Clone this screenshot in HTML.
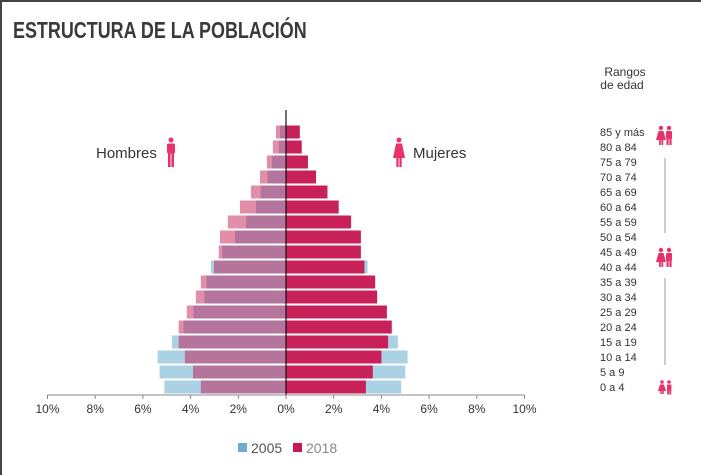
<!DOCTYPE html>
<html><head><meta charset="utf-8">
<style>
html,body{margin:0;padding:0;background:#fff;}
body{width:701px;height:475px;overflow:hidden;position:relative;font-family:"Liberation Sans",sans-serif;}
#frame{position:absolute;left:0;top:0;width:701px;height:475px;box-sizing:border-box;border-left:2px solid #444;border-top:2px solid #444;}
#title{position:absolute;left:13px;top:17px;font-size:23px;font-weight:bold;color:#3a3a3a;transform:scaleX(0.78);transform-origin:left top;white-space:nowrap;letter-spacing:0px;}
svg{position:absolute;left:0;top:0;}
</style></head><body>
<div id="frame"></div>
<div id="title">ESTRUCTURA DE LA POBLACIÓN</div>
<svg id="chart" width="701" height="475"></svg>
<script>
const ages = ["85 y más","80 a 84","75 a 79","70 a 74","65 a 69","60 a 64","55 a 59","50 a 54","45 a 49","40 a 44","35 a 39","30 a 34","25 a 29","20 a 24","15 a 19","10 a 14","5 a 9","0 a 4"];
const men2005 = [0.25,0.3,0.59,0.78,1.06,1.26,1.67,2.14,2.68,3.15,3.33,3.42,3.88,4.3,4.78,5.38,5.3,5.1];
const men2018 = [0.42,0.55,0.8,1.09,1.47,1.93,2.44,2.77,2.82,3.02,3.57,3.78,4.16,4.5,4.5,4.24,3.9,3.57];
const women2005 = [0.4,0.5,0.75,1.0,1.4,1.7,2.2,2.8,3.0,3.42,3.6,3.7,4.1,4.46,4.69,5.1,5.0,4.83];
const women2018 = [0.58,0.66,0.92,1.26,1.74,2.21,2.73,3.14,3.14,3.29,3.74,3.82,4.23,4.43,4.28,4.0,3.64,3.35];
const ticks = [-10,-8,-6,-4,-2,0,2,4,6,8,10];

const svg=document.getElementById('chart');
const NS='http://www.w3.org/2000/svg';
const cx=286, unit=23.85;
const xs=v=>cx+v*unit;
const ys=i=>132+i*15;
function mk(tag,attrs){const e=document.createElementNS(NS,tag);for(const k in attrs)e.setAttribute(k,attrs[k]);svg.appendChild(e);return e;}

ages.forEach((a,i)=>{
  const y=ys(i)-6.5,h=13;
  const m05=men2005[i],m18=men2018[i],mn=Math.min(m05,m18);
  let r=mk('rect',{x:xs(-m05),y:y,width:m05*unit,height:h,fill:'#abd1e4'});
  
  
  r=mk('rect',{x:xs(-m18),y:y,width:m18*unit,height:h,fill:'#e28ea9'});
  
  
  r=mk('rect',{x:xs(-mn),y:y,width:mn*unit,height:h,fill:'#b5749b'});
  
  
  r=mk('rect',{x:cx,y:y,width:women2005[i]*unit,height:h,fill:'#abd1e4'});
  
  
  r=mk('rect',{x:cx,y:y,width:women2018[i]*unit,height:h,fill:'#c8215a'});
  
  
  const t=mk('text',{x:600,y:ys(i)+4,'font-size':11,fill:'#333'});
  t.textContent=a;
  
  
});
let l=mk('line',{x1:cx,y1:110,x2:cx,y2:395,stroke:'#111','stroke-width':1.2});


l=mk('line',{x1:xs(-10),y1:395,x2:xs(10),y2:395,stroke:'#888','stroke-width':1});


ticks.forEach(v=>{
  const tk=mk('line',{x1:xs(v),y1:395,x2:xs(v),y2:399,stroke:'#888'});
  
  
  const t=mk('text',{x:xs(v),y:413,'font-size':12,fill:'#333','text-anchor':'middle'});
  t.textContent=Math.abs(v)+'%';
  
  
});
</script>
<svg width="701" height="475">
  <text x="96" y="158" font-size="15" fill="#333">Hombres</text>
  <g fill="#e8336a">
    <circle cx="171" cy="140" r="2.5"/><rect x="167" y="143.5" width="8" height="10" rx="1.5"/><rect x="168" y="152" width="2.6" height="15"/><rect x="171.4" y="152" width="2.6" height="15"/>
  </g>
  <g fill="#e8336a">
    <circle cx="399" cy="140" r="2.5"/><polygon points="396,143.5 402,143.5 405,158 393,158"/><rect x="396.3" y="157" width="2.3" height="10"/><rect x="399.4" y="157" width="2.3" height="10"/>
  </g>
  <text x="413" y="158" font-size="15" fill="#333">Mujeres</text>
  <text x="625" y="76" font-size="12" fill="#333" text-anchor="middle">Rangos</text>
  <text x="622" y="89" font-size="12" fill="#333" text-anchor="middle">de edad</text>
  <g fill="#e8336a">
    <circle cx="661" cy="128" r="2.2"/><polygon points="658.5,131 663.5,131 666,140 656,140"/><rect x="659" y="139" width="1.8" height="6"/><rect x="661.4" y="139" width="1.8" height="6"/>
    <circle cx="669" cy="128" r="2.2"/><rect x="666" y="131" width="6" height="8" rx="1"/><rect x="666.5" y="138" width="2.2" height="7"/><rect x="669.4" y="138" width="2.2" height="7"/>
  </g>
  <g fill="#e8336a">
    <circle cx="661" cy="250" r="2.2"/><polygon points="658.5,253 663.5,253 666,262 656,262"/><rect x="659" y="261" width="1.8" height="6"/><rect x="661.4" y="261" width="1.8" height="6"/>
    <circle cx="669" cy="250" r="2.2"/><rect x="666" y="253" width="6" height="8" rx="1"/><rect x="666.5" y="260" width="2.2" height="7"/><rect x="669.4" y="260" width="2.2" height="7"/>
  </g>
  <g fill="#e8336a">
    <circle cx="662" cy="382" r="1.8"/><polygon points="660,384.5 664,384.5 666,391 658,391"/><rect x="660.3" y="390" width="1.5" height="4"/><rect x="662.3" y="390" width="1.5" height="4"/>
    <circle cx="669" cy="382" r="1.8"/><rect x="667" y="384.5" width="4.4" height="6"/><rect x="667.2" y="390" width="1.8" height="4.5"/><rect x="669.4" y="390" width="1.8" height="4.5"/>
  </g>
  <line x1="665" y1="158" x2="665" y2="233" stroke="#999"/>
  <line x1="665" y1="278" x2="665" y2="365" stroke="#999"/>
  <rect x="238" y="443" width="9" height="9" fill="#6aadcf"/>
  <text x="251" y="453" font-size="14" fill="#555">2005</text>
  <rect x="293" y="443" width="9" height="9" fill="#c8184f"/>
  <text x="306" y="453" font-size="14" fill="#888">2018</text>
</svg>
</body></html>
